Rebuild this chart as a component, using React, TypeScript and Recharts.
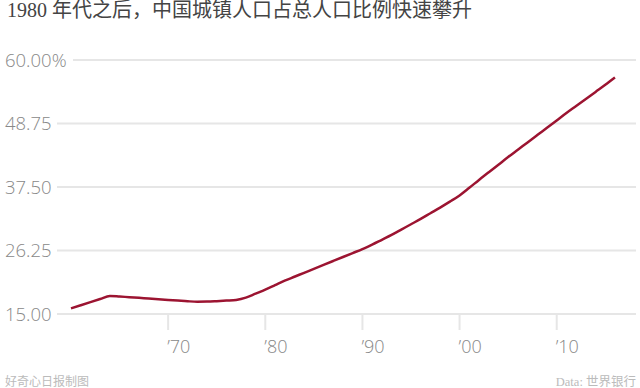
import React from "react";
import { LineChart, Line, XAxis, YAxis, CartesianGrid } from "recharts";

const years = [
  1960, 1961, 1962, 1963, 1964, 1965, 1966, 1967, 1968, 1969,
  1970, 1971, 1972, 1973, 1974, 1975, 1976, 1977, 1978, 1979,
  1980, 1981, 1982, 1983, 1984, 1985, 1986, 1987, 1988, 1989,
  1990, 1991, 1992, 1993, 1994, 1995, 1996, 1997, 1998, 1999,
  2000, 2001, 2002, 2003, 2004, 2005, 2006, 2007, 2008, 2009,
  2010, 2011, 2012, 2013, 2014, 2015, 2016,
];
const urbanShare = [
  16.0, 16.55, 17.1, 17.65, 18.2, 18.1, 17.98, 17.86, 17.74, 17.62,
  17.5, 17.38, 17.26, 17.18, 17.2, 17.28, 17.38, 17.5, 17.9, 18.6,
  19.3, 20.1, 20.9, 21.6, 22.3, 23.0, 23.7, 24.4, 25.1, 25.8,
  26.5, 27.3, 28.15, 29.0, 29.95, 30.9, 31.85, 32.85, 33.85, 34.9,
  36.0, 37.35, 38.75, 40.1, 41.45, 42.8, 44.1, 45.4, 46.7, 48.0,
  49.3, 50.6, 51.85, 53.1, 54.35, 55.6, 56.9,
];
const yTicks = [15, 26.25, 37.5, 48.75, 60];
const yTickLabels = ["15.00", "26.25", "37.50", "48.75", "60.00%"];
const xTicks = [1970, 1980, 1990, 2000, 2010];
const xTickLabels = ["\u201970", "\u201980", "\u201990", "\u201900", "\u201910"];

const title = "1980 年代之后，中国城镇人口占总人口比例快速攀升";
const sourceLeft = "好奇心日报制图";
const sourceRight = "Data: 世界银行";

const data = years.map((y, i) => ({ year: y, value: urbanShare[i] }));

const SANS = "'Open Sans', 'Noto Sans', sans-serif";
const SERIF = "'Liberation Serif', 'DejaVu Serif', 'Noto Sans CJK SC', serif";

const GridLine = (props: any) => {
  const { y1, index } = props;
  const y = y1;
  const isTop = Math.abs(y - 60) < 2;
  return <line key={`g-${index}`} x1={isTop ? 73 : 57} x2={636} y1={y} y2={y} stroke="#e6e6e6" strokeWidth={2} />;
};

const YTick = (props: any) => {
  const { y, payload } = props;
  const idx = yTicks.indexOf(payload.value);
  const label = yTickLabels[idx] ?? String(payload.value);
  return (
    <text x={5} y={y} dy="0.36em" fill="#888" fontSize={18.5} fontFamily={SANS} fontWeight={300} textAnchor="start">
      {label}
    </text>
  );
};

const XTick = (props: any) => {
  const { x, y, payload } = props;
  const idx = xTicks.indexOf(payload.value);
  const label = xTickLabels[idx] ?? String(payload.value);
  return (
    <g>
      <line x1={x} x2={x} y1={y} y2={y + 16} stroke="#e6e6e6" strokeWidth={2} />
      <text x={x - 1} y={y + 33} dy="0.36em" fill="#888" fontSize={18} fontFamily={SANS} fontWeight={300} textAnchor="start">
        {label}
      </text>
    </g>
  );
};

export default function App() {
  return (
    <div style={{ position: "absolute", left: 0, top: 0, width: 640, height: 388, background: "#fff", overflow: "hidden" }}>
      <div
        style={{
          position: "absolute",
          left: 7,
          top: 0,
          fontSize: 20,
          lineHeight: "21px",
          color: "#444",
          fontFamily: SERIF,
          whiteSpace: "nowrap",
        }}
      >
        {title}
      </div>
      <LineChart width={640} height={388} data={data} margin={{ top: 60, right: 25, bottom: 0, left: 0 }}>
        <CartesianGrid vertical={false} horizontal={(p: any) => <GridLine {...p} />} horizontalValues={yTicks} />
        <YAxis
          type="number"
          domain={[15, 60]}
          ticks={yTicks}
          width={71}
          axisLine={false}
          tickLine={false}
          tick={<YTick />}
          interval={0}
          allowDataOverflow
        />
        <XAxis
          dataKey="year"
          type="number"
          domain={[1960, 2016]}
          ticks={xTicks}
          height={74}
          axisLine={false}
          tickLine={false}
          tickSize={0}
          tickMargin={0}
          tick={<XTick />}
          interval={0}
        />
        <Line
          type="monotone"
          dataKey="value"
          stroke="#9c1431"
          strokeWidth={2.5}
          dot={false}
          isAnimationActive={false}
        />
      </LineChart>
      <div
        style={{
          position: "absolute",
          left: 5,
          top: 376,
          fontSize: 12,
          lineHeight: "12px",
          color: "#bbb",
          fontFamily: SERIF,
          whiteSpace: "nowrap",
        }}
      >
        {sourceLeft}
      </div>
      <div
        style={{
          position: "absolute",
          right: 4,
          top: 376,
          fontSize: 12.5,
          lineHeight: "12px",
          color: "#bbb",
          fontFamily: SERIF,
          whiteSpace: "nowrap",
        }}
      >
        {sourceRight}
      </div>
    </div>
  );
}
